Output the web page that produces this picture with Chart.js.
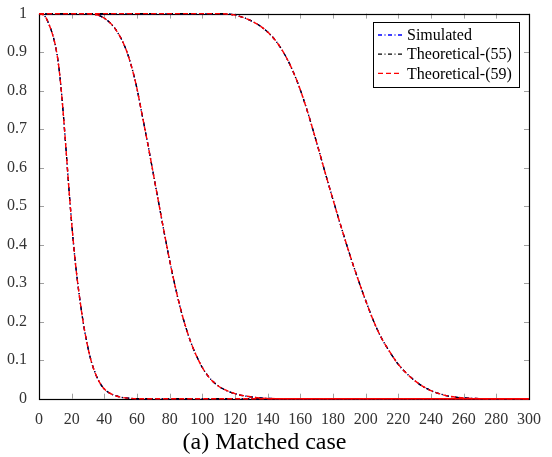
<!DOCTYPE html>
<html><head><meta charset="utf-8">
<script src="https://cdn.jsdelivr.net/npm/chart.js@4.4.1/dist/chart.umd.min.js"></script>
<style>html,body{margin:0;padding:0;background:#fff}</style>
</head><body>
<canvas id="c" width="552" height="457"></canvas>
<script>
// ---- data ----
const seriesNames = ['Simulated', 'Theoretical-(55)', 'Theoretical-(59)'];
const seriesColors = ['#0000ff', '#000000', '#ff0000'];
const captionText = '(a) Matched case';

const curve1X = [0, 2, 4, 6, 8, 10, 11, 12, 13, 14, 15, 16, 17, 18, 19, 20, 21, 22, 23, 24, 25, 26, 27, 28, 30, 32, 34, 36, 38, 40, 43, 46, 50, 55, 60, 300];
const curve1Y = [1, 0.998, 0.991, 0.973, 0.95, 0.918, 0.895, 0.866, 0.829, 0.784, 0.733, 0.678, 0.621, 0.563, 0.508, 0.456, 0.408, 0.364, 0.325, 0.29, 0.258, 0.228, 0.2, 0.175, 0.132, 0.097, 0.071, 0.051, 0.036, 0.025, 0.015, 0.009, 0.004, 0.0013, 0, 0];

const curve2X = [0, 28, 32, 36, 40, 44, 48, 52, 56, 60, 63, 66, 69, 72, 75, 78, 81, 84, 87, 90, 93, 96, 100, 104, 108, 112, 116, 120, 125, 130, 135, 140, 145, 300];
const curve2Y = [1, 1, 0.999, 0.996, 0.988, 0.974, 0.952, 0.92, 0.872, 0.805, 0.74, 0.675, 0.607, 0.538, 0.469, 0.402, 0.338, 0.28, 0.228, 0.184, 0.146, 0.115, 0.081, 0.056, 0.039, 0.027, 0.019, 0.013, 0.008, 0.0045, 0.002, 0.0008, 0, 0];

const curve3X = [0, 110, 115, 120, 125, 130, 135, 140, 145, 150, 155, 160, 165, 170, 175, 180, 185, 190, 195, 200, 205, 210, 215, 220, 225, 230, 235, 240, 245, 250, 255, 260, 265, 270, 275, 300];
const curve3Y = [1, 1, 0.999, 0.996, 0.99, 0.981, 0.969, 0.952, 0.929, 0.897, 0.855, 0.802, 0.737, 0.665, 0.59, 0.517, 0.446, 0.378, 0.314, 0.255, 0.2, 0.155, 0.12, 0.089, 0.066, 0.047, 0.032, 0.021, 0.013, 0.0075, 0.004, 0.002, 0.0008, 0.0002, 0, 0];

const curves = [[curve1X, curve1Y], [curve2X, curve2Y], [curve3X, curve3Y]];
const xMin = 0, xMax = 300, xStep = 20;
const yMin = 0, yMax = 1, yStep = 0.1;

// ---- styles ----
const dashes = [[4, 2.5, 1, 2.5], [4, 2.5, 1, 2.5], [5, 3]];
const widths = [1.3, 1.3, 1.4];
const drawOrder = [2, 1, 0];
const serif = 'Liberation Serif';

const datasets = [];
seriesNames.forEach((name, s) => {
  curves.forEach(([xs, ys]) => {
    datasets.push({
      label: name,
      data: xs.map((x, i) => ({x: x, y: ys[i]})),
      borderColor: seriesColors[s],
      borderWidth: widths[s],
      borderDash: dashes[s],
      pointRadius: 0,
      fill: false,
      cubicInterpolationMode: 'monotone',
      order: drawOrder[s],
      clip: 2
    });
  });
});

const frameTicks = {
  id: 'frameTicks',
  beforeDatasetsDraw(chart) {
    const {ctx, chartArea: a, scales: {x, y}} = chart;
    ctx.save();
    ctx.strokeStyle = '#a0a0a0';
    ctx.lineWidth = 1;
    ctx.beginPath();
    x.ticks.forEach(t => {
      const px = Math.round(x.getPixelForValue(t.value)) + 0.5;
      ctx.moveTo(px, a.bottom); ctx.lineTo(px, a.bottom - 5);
      ctx.moveTo(px, a.top); ctx.lineTo(px, a.top + 5);
    });
    y.ticks.forEach(t => {
      const py = Math.round(y.getPixelForValue(t.value)) + 0.5;
      ctx.moveTo(a.left, py); ctx.lineTo(a.left + 5, py);
      ctx.moveTo(a.right, py); ctx.lineTo(a.right - 5, py);
    });
    ctx.stroke();
    ctx.strokeStyle = '#000';
    ctx.lineWidth = 1.2;
    ctx.strokeRect(Math.round(a.left) + 0.5, Math.round(a.top) + 0.5,
                   Math.round(a.width), Math.round(a.height));
    ctx.restore();
  }
};

const boxLegend = {
  id: 'boxLegend',
  afterDatasetsDraw(chart) {
    const {ctx, chartArea: a} = chart;
    ctx.save();
    ctx.font = '16px "' + serif + '"';
    const tw = Math.max(...seriesNames.map(n => ctx.measureText(n).width));
    const w = Math.round(34 + tw + 7), h = 65, rowH = 19.2;
    const right = Math.round(a.right) - 10, top = Math.round(a.top) + 8;
    const left = right - w;
    ctx.fillStyle = '#fff';
    ctx.fillRect(left, top, w, h);
    ctx.strokeStyle = '#000';
    ctx.lineWidth = 1;
    ctx.strokeRect(left + 0.5, top + 0.5, w, h);
    seriesNames.forEach((n, s) => {
      const cy = top + 13 + s * rowH;
      ctx.beginPath();
      ctx.setLineDash(dashes[s]);
      ctx.strokeStyle = seriesColors[s];
      ctx.lineWidth = widths[s];
      ctx.moveTo(left + 5, cy);
      ctx.lineTo(left + 29, cy);
      ctx.stroke();
      ctx.setLineDash([]);
      ctx.fillStyle = '#000';
      ctx.textBaseline = 'middle';
      ctx.textAlign = 'left';
      ctx.fillText(n, left + 34, cy + 1);
    });
    ctx.restore();
  }
};

new Chart(document.getElementById('c'), {
  type: 'line',
  data: {datasets},
  options: {
    responsive: false,
    animation: false,
    events: [],
    layout: {padding: {left: 0, right: 23, top: 13, bottom: 0}},
    scales: {
      x: {
        type: 'linear', min: xMin, max: xMax,
        grid: {display: false},
        border: {display: false},
        ticks: {stepSize: xStep, autoSkip: false, maxRotation: 0, padding: 3,
                color: '#333', font: {family: serif, size: 16}},
        afterFit(s) { s.height = 29.5; }
      },
      y: {
        type: 'linear', min: yMin, max: yMax,
        grid: {display: false},
        border: {display: false},
        ticks: {stepSize: yStep, autoSkip: false, padding: 4,
                color: '#333', font: {family: serif, size: 16},
                callback: v => String(Math.round(v * 10) / 10)},
        afterFit(s) { s.width = 39; }
      }
    },
    plugins: {
      legend: {display: false},
      tooltip: {enabled: false},
      title: {
        display: true, position: 'bottom', text: captionText,
        color: '#000', font: {family: serif, size: 24, weight: 'normal'},
        padding: {top: 0, bottom: 0}
      }
    }
  },
  plugins: [frameTicks, boxLegend]
});
</script>
</body></html>
